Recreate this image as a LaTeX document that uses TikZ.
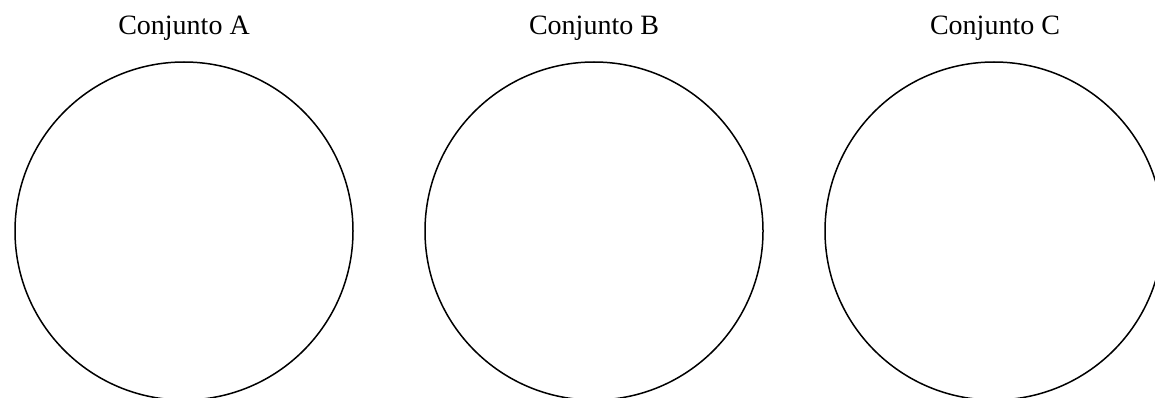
\documentclass[tikz,border=0pt]{standalone}
\usepackage{fontspec}
\setmainfont{Liberation Serif}
\begin{document}
\begin{tikzpicture}[x=1pt,y=-1pt,
  setc/.style={circle,draw=black,line width=1.5pt,minimum size=338pt,inner sep=0pt},
  lbl/.style={font=\fontsize{28}{32}\selectfont,anchor=base,inner sep=0pt}]
\useasboundingbox (0,0) rectangle (1155,398);
\node[setc] (A) at (184,231) {};
\node[setc] (B) at (594,231) {};
\node[setc] (C) at (994,231) {};
\node[lbl] (tA) at (184,35) {Conjunto A};
\node[lbl] (tB) at (594,35) {Conjunto B};
\node[lbl] (tC) at (995,35) {Conjunto C};
\end{tikzpicture}
\end{document}
